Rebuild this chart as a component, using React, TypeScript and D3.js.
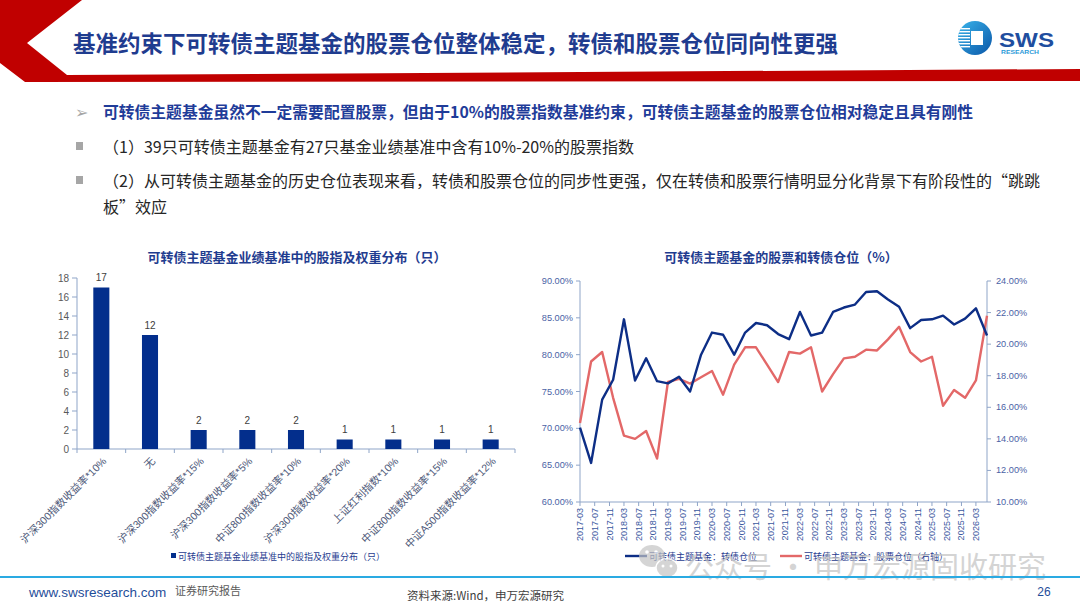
import { useEffect } from 'react'
import * as d3 from 'd3'

const W = 1080
const H = 608
const FONT = '"Liberation Sans", "Noto Sans CJK SC", sans-serif'
const CJK = '"Noto Sans CJK SC", "Liberation Sans", sans-serif'

// left chart: benchmark stock index & weight distribution
const BAR_CATEGORIES = [
  '沪深300指数收益率*10%',
  '无',
  '沪深300指数收益率*15%',
  '沪深300指数收益率*5%',
  '中证800指数收益率*10%',
  '沪深300指数收益率*20%',
  '上证红利指数*10%',
  '中证800指数收益率*15%',
  '中证A500指数收益率*12%',
]
const BAR_VALUES = [17, 12, 2, 2, 2, 1, 1, 1, 1]
const BAR_TICKS = [0, 2, 4, 6, 8, 10, 12, 14, 16, 18]

// right chart: quarterly positions
const QUARTERS = [
  '2017-03', '2017-06', '2017-09', '2017-12', '2018-03', '2018-06', '2018-09', '2018-12',
  '2019-03', '2019-06', '2019-09', '2019-12', '2020-03', '2020-06', '2020-09', '2020-12',
  '2021-03', '2021-06', '2021-09', '2021-12', '2022-03', '2022-06', '2022-09', '2022-12',
  '2023-03', '2023-06', '2023-09', '2023-12', '2024-03', '2024-06', '2024-09', '2024-12',
  '2025-03', '2025-06', '2025-09', '2025-12', '2026-03', '2026-06',
]
const CB_POSITION = [
  70.1, 65.3, 73.9, 76.6, 84.8, 76.5, 79.5, 76.4, 76.1, 77.0,
  75.0, 80.0, 83.0, 82.7, 80.0, 83.0, 84.3, 84.0, 82.8, 82.1,
  85.8, 82.6, 83.0, 85.8, 86.4, 86.8, 88.5, 88.6, 87.5, 86.5,
  83.6, 84.7, 84.8, 85.3, 84.1, 84.9, 86.3, 82.6,
]
const STOCK_POSITION = [
  15.0, 18.9, 19.5, 16.6, 14.2, 14.0, 14.5, 12.75, 17.6, 17.8,
  17.5, 17.9, 18.3, 16.8, 18.7, 19.8, 19.8, 18.7, 17.6, 19.5,
  19.4, 19.8, 17.0, 18.1, 19.1, 19.2, 19.65, 19.6, 20.3, 21.1,
  19.5, 18.9, 19.2, 16.1, 17.1, 16.6, 17.7, 21.8,
]
const TICK_LABELS = [
  '2017-03', '2017-07', '2017-11', '2018-03', '2018-07', '2018-11', '2019-03',
  '2019-07', '2019-11', '2020-03', '2020-07', '2020-11', '2021-03', '2021-07',
  '2021-11', '2022-03', '2022-07', '2022-11', '2023-03', '2023-07', '2023-11',
  '2024-03', '2024-07', '2024-11', '2025-03', '2025-07', '2025-11', '2026-03',
]
const LEFT_TICKS = [60, 65, 70, 75, 80, 85, 90]
const RIGHT_TICKS = [10, 12, 14, 16, 18, 20, 22, 24]

const BLUE_TEXT = '#1f3c8f'
const AXIS = '#8fa5c8'
const BAR_BLUE = '#032e8c'
const LINE_BLUE = '#0d2e86'
const LINE_RED = '#e36868'

function BarChart() {
  const x = d3.scaleBand<string>()
    .domain(BAR_CATEGORIES)
    .range([77, 515])
    .paddingInner(0.67)
    .paddingOuter(0.335)
  const y = d3.scaleLinear().domain([0, 18]).range([449, 278])
  const step = x.step()
  const bw = x.bandwidth()
  const bounds = BAR_CATEGORIES.map(c => (x(c) as number) + bw / 2 - step / 2)
  bounds.push(bounds[bounds.length - 1] + step)

  return (
    <g fontFamily={FONT}>
      <text x={297} y={256} textAnchor="middle" dominantBaseline="central"
        fontFamily={CJK} fontWeight={700} fontSize={13} fill={BLUE_TEXT}>
        可转债主题基金业绩基准中的股指及权重分布（只）
      </text>

      {BAR_TICKS.map(t => (
        <g key={t}>
          <line x1={72} x2={77} y1={y(t)} y2={y(t)} stroke={AXIS} />
          <text x={69} y={y(t)} textAnchor="end" dominantBaseline="central"
            fontSize={10} fill="#595959">{t}</text>
        </g>
      ))}
      <line x1={77} x2={77} y1={y(18)} y2={y(0)} stroke={AXIS} />
      <line x1={77} x2={515} y1={y(0)} y2={y(0)} stroke={AXIS} />
      {bounds.map((b, i) => (
        <line key={i} x1={b} x2={b} y1={y(0)} y2={y(0) + 4} stroke={AXIS} />
      ))}

      {BAR_CATEGORIES.map((c, i) => {
        const cx = (x(c) as number) + bw / 2
        return (
          <g key={c}>
            <rect x={x(c)} y={y(BAR_VALUES[i])} width={bw}
              height={y(0) - y(BAR_VALUES[i])} fill={BAR_BLUE} />
            <text x={cx} y={y(BAR_VALUES[i]) - 10} textAnchor="middle"
              dominantBaseline="central" fontSize={10} fill="#404040">{BAR_VALUES[i]}</text>
            <text transform={`translate(${cx + 3},${y(0) + 10}) rotate(-45)`}
              textAnchor="end" dominantBaseline="central" fontSize={10.5} fill="#4d5878">{c}</text>
          </g>
        )
      })}

      <rect x={171} y={553} width={5} height={5} fill={BAR_BLUE} />
      <text x={178} y={556} dominantBaseline="central" fontFamily={CJK}
        fontSize={9} fill={BLUE_TEXT}>可转债主题基金业绩基准中的股指及权重分布（只）</text>
    </g>
  )
}

function LineChart() {
  const parse = d3.timeParse('%Y-%m')
  const dates = QUARTERS.map(q => parse(q) as Date)
  const ticks = TICK_LABELS.map(t => parse(t) as Date)
  const x = d3.scaleTime().domain([dates[0], dates[dates.length - 1]]).range([580, 987])
  const yL = d3.scaleLinear().domain([60, 90]).range([502, 281])
  const yR = d3.scaleLinear().domain([10, 24]).range([502, 281])

  const cbLine = d3.line<number>()
    .x((_, i) => x(dates[i]))
    .y(d => yL(d))
  const stockLine = d3.line<number>()
    .x((_, i) => x(dates[i]))
    .y(d => yR(d))

  return (
    <g fontFamily={FONT}>
      <text x={781} y={256} textAnchor="middle" dominantBaseline="central"
        fontFamily={CJK} fontWeight={700} fontSize={13} fill={BLUE_TEXT}>
        可转债主题基金的股票和转债仓位（%）
      </text>

      {/* left axis */}
      <line x1={580} x2={580} y1={281} y2={502} stroke={AXIS} />
      {LEFT_TICKS.map(t => (
        <g key={t}>
          <line x1={576} x2={580} y1={yL(t)} y2={yL(t)} stroke={AXIS} />
          <text x={573} y={yL(t)} textAnchor="end" dominantBaseline="central"
            fontSize={9.2} fill="#4a62a5">{t.toFixed(2)}%</text>
        </g>
      ))}

      {/* right axis */}
      <line x1={987} x2={987} y1={281} y2={502} stroke={AXIS} />
      {RIGHT_TICKS.map(t => (
        <g key={t}>
          <line x1={987} x2={991} y1={yR(t)} y2={yR(t)} stroke={AXIS} />
          <text x={996} y={yR(t)} dominantBaseline="central"
            fontSize={9.2} fill="#4a62a5">{t.toFixed(2)}%</text>
        </g>
      ))}

      {/* time axis */}
      <line x1={580} x2={987} y1={502} y2={502} stroke={AXIS} />
      {ticks.map((t, i) => (
        <g key={TICK_LABELS[i]}>
          <line x1={x(t)} x2={x(t)} y1={502} y2={506} stroke={AXIS} />
          <text transform={`translate(${x(t)},${508}) rotate(-90)`} textAnchor="end"
            dominantBaseline="central" fontSize={9} fill="#3a58a0">{TICK_LABELS[i]}</text>
        </g>
      ))}

      <path d={stockLine(STOCK_POSITION) as string} fill="none" stroke={LINE_RED}
        strokeWidth={2.4} strokeLinejoin="round" />
      <path d={cbLine(CB_POSITION) as string} fill="none" stroke={LINE_BLUE}
        strokeWidth={2.4} strokeLinejoin="round" />

      {/* legend */}
      <line x1={625} x2={647} y1={556} y2={556} stroke={LINE_BLUE} strokeWidth={2.4} />
      <text x={649} y={556} dominantBaseline="central" fontFamily={CJK} fontSize={9}
        fill={BLUE_TEXT}>可转债主题基金：转债仓位</text>
      <line x1={780} x2={802} y1={556} y2={556} stroke={LINE_RED} strokeWidth={2.4} />
      <text x={804} y={556} dominantBaseline="central" fontFamily={CJK} fontSize={9}
        fill={BLUE_TEXT}>可转债主题基金：股票仓位（右轴）</text>
    </g>
  )
}

function Logo() {
  const stripes = d3.range(7)
  return (
    <g>
      <defs>
        <linearGradient id="swsGrad" x1="0" y1="0" x2="1" y2="1">
          <stop offset="0%" stopColor="#3ab4ea" />
          <stop offset="100%" stopColor="#0a56a8" />
        </linearGradient>
        <clipPath id="swsClip">
          <circle cx={975} cy={38} r={17} />
        </clipPath>
      </defs>
      <circle cx={975} cy={38} r={17} fill="url(#swsGrad)" />
      <g clipPath="url(#swsClip)">
        {stripes.map(i => (
          <rect key={i} x={956} y={28 + i * 3} width={14} height={1.4} fill="#fff" />
        ))}
      </g>
      <rect x={971} y={31} width={12} height={14} fill="#fff" />
      <text x={999} y={39} dominantBaseline="central" fontFamily={FONT} fontWeight={700}
        fontSize={21} fill="#1f4e9f" textLength={55} lengthAdjust="spacingAndGlyphs">SWS</text>
      <text x={1001} y={52} dominantBaseline="central" fontFamily={FONT} fontWeight={700}
        fontSize={6} fill="#2a9ad8" textLength={38} lengthAdjust="spacingAndGlyphs">RESEARCH</text>
    </g>
  )
}

export default function App() {
  useEffect(() => {
    document.body.style.margin = '0'
  }, [])

  return (
    <svg width={W} height={H} viewBox={`0 0 ${W} ${H}`}
      style={{ position: 'absolute', left: 0, top: 0, background: '#fff' }}>
      <rect width={W} height={H} fill="#fff" />

      {/* header band */}
      <polygon points="0,0 82,0 27,43 67,75 1080,69 1080,81 25,82 0,63" fill="#c00000" />
      <text x={73} y={42} dominantBaseline="central" fontFamily={CJK} fontWeight={700}
        fontSize={23} fill={BLUE_TEXT} textLength={765} lengthAdjust="spacingAndGlyphs">
        基准约束下可转债主题基金的股票仓位整体稳定，转债和股票仓位同向性更强
      </text>
      <Logo />

      {/* bullets */}
      <text x={75} y={112} dominantBaseline="central" fontFamily='"DejaVu Sans", sans-serif'
        fontSize={16} fill="#a6a6a6">➢</text>
      <text x={103} y={111} dominantBaseline="central" fontFamily={CJK} fontWeight={700}
        fontSize={16} fill="#1f3c99" textLength={870} lengthAdjust="spacingAndGlyphs">
        可转债主题基金虽然不一定需要配置股票，但由于10%的股票指数基准约束，可转债主题基金的股票仓位相对稳定且具有刚性
      </text>
      <rect x={76} y={142} width={7} height={8} fill="#a6a6a6" />
      <text x={103} y={146} dominantBaseline="central" fontFamily={CJK} fontSize={16}
        fill="#262626">（1）39只可转债主题基金有27只基金业绩基准中含有10%-20%的股票指数</text>
      <rect x={76} y={176} width={7} height={8} fill="#a6a6a6" />
      <text x={103} y={180} dominantBaseline="central" fontFamily={CJK} fontSize={16}
        fill="#262626">（2）从可转债主题基金的历史仓位表现来看，转债和股票仓位的同步性更强，仅在转债和股票行情明显分化背景下有阶段性的“跳跳</text>
      <text x={103} y={206} dominantBaseline="central" fontFamily={CJK} fontSize={16}
        fill="#262626">板”效应</text>

      <BarChart />
      <LineChart />

      {/* watermark */}
      <g opacity={0.7}>
        <ellipse cx={652} cy={556} rx={13} ry={11} fill="#c4c4c4" />
        <ellipse cx={667} cy={568} rx={11} ry={9.5} fill="#c4c4c4" stroke="#fff" strokeWidth={1.5} />
        <circle cx={647} cy={552} r={1.8} fill="#fff" />
        <circle cx={656} cy={552} r={1.8} fill="#fff" />
        <circle cx={663} cy={566} r={1.5} fill="#fff" />
        <circle cx={671} cy={566} r={1.5} fill="#fff" />
        <text x={685} y={565} dominantBaseline="central" fontFamily={CJK} fontSize={29}
          fill="#c2c2c2">公众号 · 申万宏源固收研究</text>
      </g>

      {/* footer */}
      <line x1={0} x2={W} y1={577} y2={577} stroke="#2aaae2" strokeWidth={2} />
      <text x={29} y={592} dominantBaseline="central" fontFamily={FONT} fontSize={13.5}
        fill="#1f4e9a">www.swsresearch.com</text>
      <text x={175} y={590} dominantBaseline="central" fontFamily={CJK} fontSize={11}
        fill="#595959">证券研究报告</text>
      <text x={407} y={595} dominantBaseline="central" fontFamily={CJK} fontSize={11.5}
        fill="#404040">资料来源:Wind，申万宏源研究</text>
      <text x={1044} y={592} textAnchor="middle" dominantBaseline="central" fontFamily={FONT}
        fontSize={12} fill="#1f4e9a">26</text>
    </svg>
  )
}
